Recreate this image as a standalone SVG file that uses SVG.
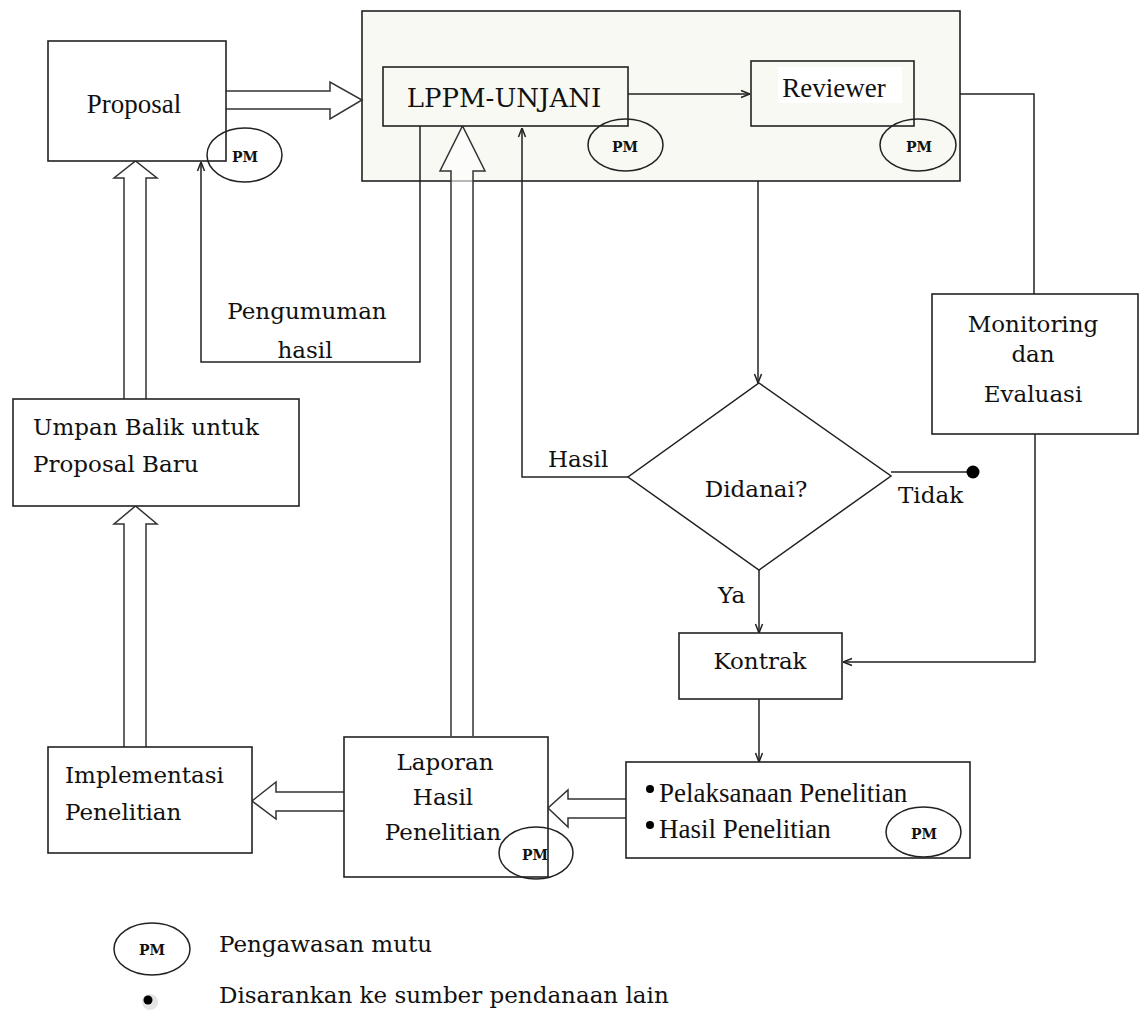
<svg xmlns="http://www.w3.org/2000/svg" width="1139" height="1013" viewBox="0 0 1139 1013">
<defs>
<style>
.box{fill:#fff;stroke:#222;stroke-width:1.6}
.gbox{fill:#f7f9f2;stroke:#222;stroke-width:1.6}
.ln{fill:none;stroke:#222;stroke-width:1.5}
.blk{fill:#fff;stroke:#333;stroke-width:1.5;stroke-linejoin:miter}
.pm{fill:none;stroke:#222;stroke-width:1.5}
.t{font-family:"DejaVu Serif","Liberation Serif",serif;font-size:23px;fill:#111}
.tc{text-anchor:middle}
.tt{font-family:"Liberation Serif","Times New Roman",serif;font-size:27px;fill:#111}
.pmt{font-family:"DejaVu Serif","Liberation Serif",serif;font-size:14px;font-weight:bold;fill:#111;text-anchor:middle}
</style>
<marker id="arr" viewBox="0 0 10 10" refX="10" refY="5" markerWidth="10" markerHeight="10" markerUnits="userSpaceOnUse" orient="auto">
<path d="M1,1.5 L10,5 L1,8.5" fill="none" stroke="#222" stroke-width="1.5"/>
</marker>
</defs>
<rect width="1139" height="1013" fill="#fff"/>

<g id="container">
<rect class="gbox" x="362" y="11" width="598" height="170"/>
</g>

<g id="connectors">
<!-- thin arrows -->
<line class="ln" x1="628" y1="94" x2="750" y2="94" marker-end="url(#arr)"/>
<polyline class="ln" points="960,94 1034,94 1034,294"/>
<polyline class="ln" points="1035,434 1035,662 843,662" marker-end="url(#arr)"/>
<line class="ln" x1="758" y1="181" x2="758" y2="383" marker-end="url(#arr)"/>
<line class="ln" x1="759" y1="570" x2="759" y2="633" marker-end="url(#arr)"/>
<line class="ln" x1="759" y1="699" x2="759" y2="762" marker-end="url(#arr)"/>
<polyline class="ln" points="628,477 522,477 522,128" marker-end="url(#arr)"/>
<line class="ln" x1="891" y1="472" x2="973" y2="472"/>
<circle cx="973" cy="472" r="6.5" fill="#000"/>
<polyline class="ln" points="420,126 420,362 201,362 201,162" marker-end="url(#arr)"/>
<!-- block arrows -->
<path class="blk" d="M226,91 L330,91 L330,82 L362,100 L330,119 L330,109 L226,109"/>
<path class="blk" d="M124,399 L124,178 L114,178 L135.5,161 L157,178 L146,178 L146,399"/>
<path class="blk" d="M124,747 L124,524 L114,524 L135.5,506 L157,524 L146,524 L146,747"/>
<path class="blk" d="M451,736 L451,171 L440,171 L462.5,126 L485,171 L473,171 L473,736" fill-opacity="0.6"/>
<path class="blk" d="M626,799 L568,799 L568,790 L548,808 L568,827 L568,818 L626,818"/>
<path class="blk" d="M344,792 L276,792 L276,782 L252,801 L276,819 L276,811 L344,811"/>
<!-- labels -->
<text class="t tc" x="307" y="319">Pengumuman</text>
<text class="t tc" x="305" y="358">hasil</text>
<text class="t" x="548" y="467">Hasil</text>
<text class="t" x="898" y="503">Tidak</text>
<text class="t" x="718" y="603">Ya</text>
</g>

<g id="proposal">
<rect class="box" x="48" y="41" width="178" height="120"/>
<text class="tt tc" x="134" y="113">Proposal</text>
<ellipse class="pm" cx="244.5" cy="155" rx="37.5" ry="27"/>
<text class="pmt" x="245" y="162">PM</text>
</g>

<g id="lppm">
<rect class="gbox" x="383" y="67" width="245" height="59"/>
<text class="t tc" x="504" y="107" style="font-size:26px">LPPM-UNJANI</text>
<ellipse class="pm" cx="625.5" cy="145" rx="37.5" ry="26"/>
<text class="pmt" x="625" y="152">PM</text>
</g>

<g id="reviewer">
<rect class="gbox" x="751" y="61" width="163" height="65"/>
<rect x="778" y="67" width="124" height="36" fill="#fff"/>
<text class="tt tc" x="834" y="97">Reviewer</text>
<ellipse class="pm" cx="918" cy="145" rx="38" ry="26"/>
<text class="pmt" x="919" y="152">PM</text>
</g>

<g id="monitoring">
<rect class="box" x="932" y="294" width="206" height="140"/>
<text class="t tc" x="1033" y="332">Monitoring</text>
<text class="t tc" x="1033" y="362">dan</text>
<text class="t tc" x="1033" y="402">Evaluasi</text>
</g>

<g id="didanai">
<polygon points="759,383 891,476 759,570 628,477" fill="#fff" stroke="#222" stroke-width="1.5"/>
<text class="t tc" x="756" y="497">Didanai?</text>
</g>

<g id="kontrak">
<rect class="box" x="679" y="633" width="163" height="66"/>
<text class="t tc" x="760" y="669">Kontrak</text>
</g>

<g id="pelaksanaan">
<rect class="box" x="626" y="762" width="344" height="96"/>
<circle cx="650" cy="789" r="4" fill="#000"/>
<circle cx="650" cy="825" r="4" fill="#000"/>
<text class="tt" x="659" y="802">Pelaksanaan Penelitian</text>
<text class="tt" x="659" y="838">Hasil Penelitian</text>
<ellipse class="pm" cx="923.5" cy="832" rx="37.5" ry="25"/>
<text class="pmt" x="924" y="839">PM</text>
</g>

<g id="laporan">
<rect class="box" x="344" y="737" width="204" height="140"/>
<text class="t tc" x="445" y="770">Laporan</text>
<text class="t tc" x="443" y="805">Hasil</text>
<text class="t tc" x="443" y="840">Penelitian</text>
<ellipse class="pm" cx="536" cy="853" rx="37" ry="26"/>
<text class="pmt" x="535" y="860">PM</text>
</g>

<g id="implementasi">
<rect class="box" x="48" y="747" width="204" height="106"/>
<text class="t" x="65" y="783">Implementasi</text>
<text class="t" x="65" y="820">Penelitian</text>
</g>

<g id="umpan">
<rect class="box" x="13" y="399" width="286" height="107"/>
<text class="t" x="33" y="435">Umpan Balik untuk</text>
<text class="t" x="33" y="472">Proposal Baru</text>
</g>

<g id="legend">
<ellipse class="pm" cx="152" cy="949" rx="38" ry="26"/>
<text class="pmt" x="152" y="955">PM</text>
<text class="t" x="219" y="952">Pengawasan mutu</text>
<circle cx="150" cy="1002" r="8" fill="#e4e4e4"/>
<circle cx="148" cy="1000" r="4.5" fill="#000"/>
<text class="t" x="219" y="1003">Disarankan ke sumber pendanaan lain</text>
</g>
</svg>
